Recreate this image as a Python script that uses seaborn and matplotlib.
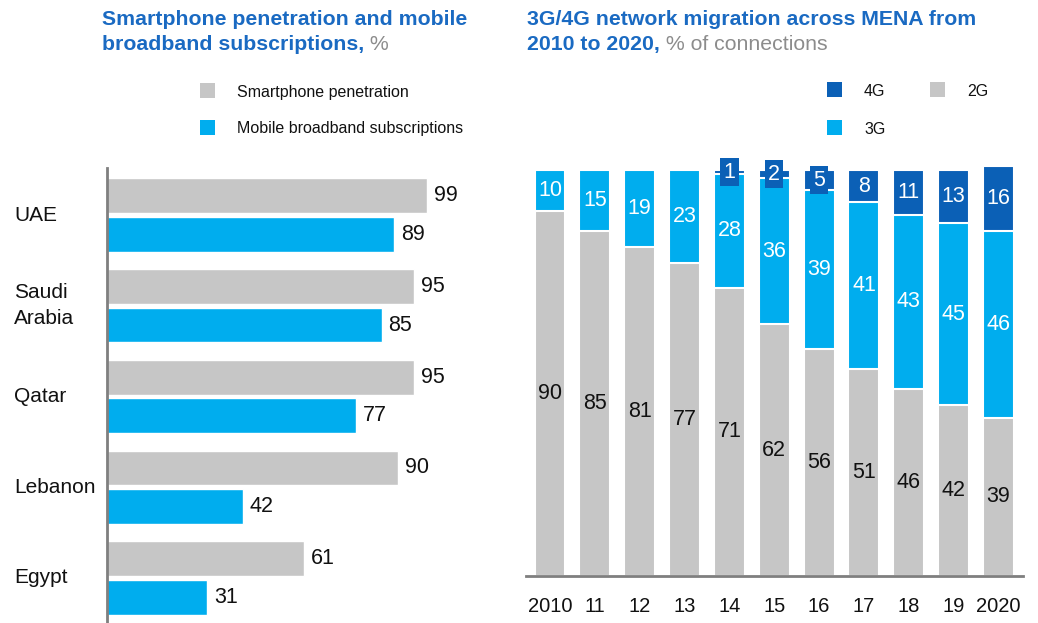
import pandas as pd
import matplotlib.pyplot as plt
import seaborn as sns
from matplotlib.patches import Rectangle
from matplotlib.transforms import blended_transform_factory

# data
countries = ['UAE', 'Saudi Arabia', 'Qatar', 'Lebanon', 'Egypt']
country_labels = ['UAE', 'Saudi\nArabia', 'Qatar', 'Lebanon', 'Egypt']
smartphone = [99, 95, 95, 90, 61]
broadband = [89, 85, 77, 42, 31]

years = ['2010', '11', '12', '13', '14', '15', '16', '17', '18', '19', '2020']
g2 = [90, 85, 81, 77, 71, 62, 56, 51, 46, 42, 39]
g3 = [10, 15, 19, 23, 28, 36, 39, 41, 43, 45, 46]
g4 = [0, 0, 0, 0, 1, 2, 5, 8, 11, 13, 16]

GRAY = '#C6C6C6'
CYAN = '#00ADEE'
DARK = '#0B60B6'
TITLE = '#1A6AC2'
SUB = '#8C8C8C'

sns.set_style('white')
plt.rcParams['font.family'] = ['Liberation Sans', 'DejaVu Sans']

W, H = 1038, 623
fig = plt.figure(figsize=(W / 100, H / 100), dpi=100)


def px(x0, y0, x1, y1):
    # pixel box (top-left origin) -> figure fraction rect
    return [x0 / W, 1 - y1 / H, (x1 - x0) / W, (y1 - y0) / H]


# ---- left panel ----
ax1 = fig.add_axes(px(107, 168, 480, 623))
df = pd.DataFrame({
    'country': countries * 2,
    'metric': ['Smartphone penetration'] * 5 + ['Mobile broadband subscriptions'] * 5,
    'value': smartphone + broadband,
})
sns.barplot(data=df, y='country', x='value', hue='metric', orient='h',
            palette=[GRAY, CYAN], width=0.85, gap=0.1, saturation=1,
            legend=False, ax=ax1)
for c in ax1.containers:
    ax1.bar_label(c, padding=5, fontsize=15.5, color='#111111')
ax1.set_xlim(0, 115.5)
ax1.set_ylim(4.496, -0.518)
ax1.set_xticks([])
ax1.set_yticks([])
ax1.set_xlabel('')
ax1.set_ylabel('')
for s in ['top', 'right', 'bottom']:
    ax1.spines[s].set_visible(False)
ax1.spines['left'].set_color('#7F7F7F')
ax1.spines['left'].set_linewidth(2)

tr = blended_transform_factory(fig.transFigure, ax1.transData)
for i, lab in enumerate(country_labels):
    fig.text(14 / W, i, lab, transform=tr, ha='left', va='center',
             fontsize=15, color='#111111', linespacing=1.45)

# ---- right panel ----
ax2 = fig.add_axes(px(526, 160, 1023, 576))
tot3 = [a + b for a, b in zip(g2, g3)]
tot4 = [a + b for a, b in zip(tot3, g4)]
for vals, col in [(tot4, DARK), (tot3, CYAN), (g2, GRAY)]:
    sns.barplot(x=years, y=vals, color=col, width=0.69, saturation=1,
                edgecolor='white', linewidth=1.5, ax=ax2)
for i in range(len(years)):
    ax2.text(i, g2[i] / 2, str(g2[i]), ha='center', va='center',
             fontsize=15.5, color='#111111')
    ax2.text(i, g2[i] + g3[i] / 2, str(g3[i]), ha='center', va='center',
             fontsize=15.5, color='white')
    if g4[i] > 0:
        # thin segments get a dark tag so the number stays readable
        box = dict(boxstyle='square,pad=0.15', fc=DARK, ec='none') if g4[i] <= 5 else None
        ax2.text(i, tot3[i] + g4[i] / 2, str(g4[i]), ha='center', va='center',
                 fontsize=15.5, color='white', bbox=box)
ax2.set_xlim(-0.535, 10.546)
ax2.set_ylim(0, 102.46)
ax2.set_yticks([])
ax2.set_xlabel('')
ax2.set_ylabel('')
ax2.tick_params(axis='x', length=0, pad=15, labelsize=14.5, labelcolor='#111111')
for s in ['top', 'right', 'left']:
    ax2.spines[s].set_visible(False)
ax2.spines['bottom'].set_color('#7F7F7F')
ax2.spines['bottom'].set_linewidth(2)

# ---- titles ----
TS = 15.3
fig.text(102 / W, 1 - 25 / H, 'Smartphone penetration and mobile',
         ha='left', va='baseline', fontsize=TS, fontweight='bold', color=TITLE)
t2 = fig.text(102 / W, 1 - 50 / H, 'broadband subscriptions,',
              ha='left', va='baseline', fontsize=TS, fontweight='bold', color=TITLE)
plt.annotate(' %', xy=(1, 0), xycoords=t2, ha='left', va='bottom',
             fontsize=TS, color=SUB)

fig.text(527 / W, 1 - 25 / H, '3G/4G network migration across MENA from',
         ha='left', va='baseline', fontsize=TS, fontweight='bold', color=TITLE)
t4 = fig.text(527 / W, 1 - 50 / H, '2010 to 2020,',
              ha='left', va='baseline', fontsize=TS, fontweight='bold', color=TITLE)
plt.annotate(' % of connections', xy=(1, 0), xycoords=t4, ha='left', va='bottom',
             fontsize=TS, color=SUB)

# ---- legends ----
def legend_item(x, y, col, text):
    fig.add_artist(Rectangle((x / W, 1 - (y + 7) / H), 15 / W, 15 / H,
                             transform=fig.transFigure, fc=col, ec='none'))
    fig.text((x + 37) / W, 1 - (y + 1) / H, text, ha='left', va='center',
             fontsize=11.5, color='#111111')

legend_item(200, 91, GRAY, 'Smartphone penetration')
legend_item(200, 128, CYAN, 'Mobile broadband subscriptions')
legend_item(827, 90, DARK, '4G')
legend_item(930, 90, GRAY, '2G')
legend_item(827, 128, CYAN, '3G')

fig.savefig('out.png', dpi=100)
